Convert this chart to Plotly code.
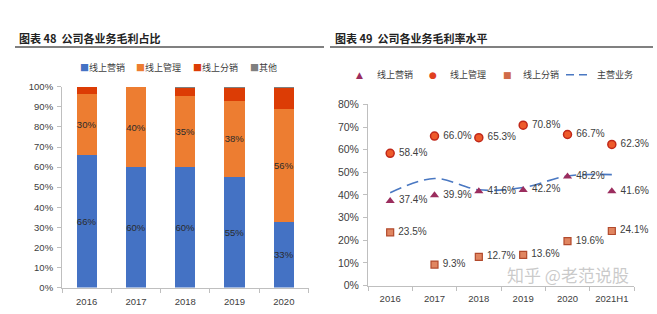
import plotly.graph_objects as go

# ---------- data ----------
years_left = ["2016", "2017", "2018", "2019", "2020"]
share_marketing = [66.0, 59.8, 60.2, 55.1, 32.6]
share_management = [30.3, 40.2, 35.0, 38.0, 56.2]
share_distribution = [3.7, 0.0, 4.5, 6.4, 10.9]
share_other = [0.0, 0.0, 0.3, 0.5, 0.3]

years_right = ["2016", "2017", "2018", "2019", "2020", "2021H1"]
margin_marketing = [37.4, 39.9, 41.6, 42.2, 48.2, 41.6]
margin_management = [58.4, 66.0, 65.3, 70.8, 66.7, 62.3]
margin_distribution = [23.5, 9.3, 12.7, 13.6, 19.6, 24.1]
margin_main = [41.0, 47.3, 42.3, 43.3, 48.4, 49.0]

left_ticks = list(range(0, 101, 10))
right_ticks = list(range(0, 81, 10))

W, H = 657, 314
def px(x):
    return x / W
def py(y):
    return 1 - y / H

ARIAL = "Arial, Liberation Sans, sans-serif"
CJK = "Noto Sans CJK SC"
AXC = "#bfbfbf"

fig = go.Figure()

# ---------- left: stacked bars ----------
bar_specs = [
    ("线上营销", share_marketing, "#4472C4", True),
    ("线上管理", share_management, "#ED7D31", True),
    ("线上分销", share_distribution, "#DC3C05", False),
    ("其他", share_other, "#7F7F7F", False),
]
for name, vals, col, lab in bar_specs:
    fig.add_trace(go.Bar(
        x=years_left, y=vals, name=name, marker=dict(color=col, line=dict(width=0)),
        width=0.41, xaxis="x", yaxis="y", showlegend=False,
        texttemplate="%{y:.0f}%" if lab else None,
        textposition="inside" if lab else "none",
        insidetextanchor="middle", constraintext="none", textangle=0,
        cliponaxis=False,
        textfont=dict(family=ARIAL, size=9.5, color="#2b2b2b"),
    ))

# ---------- right: scatter ----------
fig.add_trace(go.Scatter(
    x=years_right, y=margin_main, mode="lines", xaxis="x2", yaxis="y2",
    line=dict(color="#4A78C2", width=1.6, dash="12px,6px", shape="spline", smoothing=1.0),
    showlegend=False, hoverinfo="skip"))

def lbl(vals):
    return [f" {v:.1f}%" for v in vals]

LBLFONT = dict(family=ARIAL, size=10, color="#404040")
fig.add_trace(go.Scatter(
    x=years_right, y=margin_marketing, mode="markers+text", xaxis="x2", yaxis="y2",
    marker=dict(symbol="triangle-up", size=8, color="#9B2D5E"),
    text=lbl(margin_marketing), textposition="middle right", textfont=LBLFONT,
    cliponaxis=False, showlegend=False))
fig.add_trace(go.Scatter(
    x=years_right, y=margin_management, mode="markers+text", xaxis="x2", yaxis="y2",
    marker=dict(symbol="circle", size=8, color="#EE5A2A", line=dict(color="#C0281A", width=1.5)),
    text=lbl(margin_management), textposition="middle right", textfont=LBLFONT,
    cliponaxis=False, showlegend=False))
fig.add_trace(go.Scatter(
    x=years_right, y=margin_distribution, mode="markers+text", xaxis="x2", yaxis="y2",
    marker=dict(symbol="square", size=7, color="#E08560", line=dict(color="#B24A2C", width=1.2)),
    text=lbl(margin_distribution), textposition="middle right", textfont=LBLFONT,
    cliponaxis=False, showlegend=False))

# ---------- layout ----------
axis_common = dict(showline=True, linecolor=AXC, linewidth=1, ticks="outside",
                   tickcolor=AXC, ticklen=4, showgrid=False, zeroline=False,
                   fixedrange=True)

fig.update_layout(
    width=W, height=H, autosize=False,
    margin=dict(l=0, r=0, t=0, b=0),
    paper_bgcolor="white", plot_bgcolor="white",
    barmode="stack", bargap=0.59,
    xaxis=dict(domain=[px(62), px(308.5)], anchor="y", type="category",
               tickson="boundaries", ticklabelstandoff=5, tickangle=0,
               tickfont=dict(family=ARIAL, size=9.5, color="#404040"), **axis_common),
    yaxis=dict(domain=[py(292.7), py(84)], anchor="x", range=[0, 100],
               tickvals=left_ticks, ticktext=[f"{v}%" for v in left_ticks],
               ticklabelstandoff=2,
               tickfont=dict(family=ARIAL, size=9.5, color="#404040"), **axis_common),
    xaxis2=dict(domain=[px(368), px(634)], anchor="y2", type="category",
                range=[-0.5, 5.5], tickson="boundaries", ticklabelstandoff=4, tickangle=0,
                tickfont=dict(family=ARIAL, size=9.5, color="#404040"), **axis_common),
    yaxis2=dict(domain=[py(290.7), py(102.3)], anchor="x2", range=[0, 80],
                tickvals=right_ticks, ticktext=[f"{v}%" for v in right_ticks],
                ticklabelstandoff=2,
                tickfont=dict(family=ARIAL, size=10.5, color="#404040"), **axis_common),
)

ann = []
shapes = []
# titles
ann.append(dict(x=px(17), y=py(33), xref="paper", yref="paper", xanchor="left", yanchor="middle",
                text="<b>图表 48  公司各业务毛利占比</b>", showarrow=False,
                font=dict(family=CJK, size=11, color="#222222")))
ann.append(dict(x=px(333), y=py(33), xref="paper", yref="paper", xanchor="left", yanchor="middle",
                text="<b>图表 49  公司各业务毛利率水平</b>", showarrow=False,
                font=dict(family=CJK, size=11, color="#222222")))
shapes.append(dict(type="line", xref="paper", yref="paper", x0=px(15), x1=px(324),
                   y0=py(42.5), y1=py(42.5), line=dict(color="#808080", width=2)))
shapes.append(dict(type="line", xref="paper", yref="paper", x0=px(330), x1=px(653),
                   y0=py(42.5), y1=py(42.5), line=dict(color="#808080", width=2)))

# left legend
for xs, name, col in [(78, "线上营销", "#4472C4"), (134, "线上管理", "#ED7D31"),
                      (191, "线上分销", "#DC3C05"), (248, "其他", "#7F7F7F")]:
    ann.append(dict(x=px(xs), y=py(63.5), xref="paper", yref="paper", xanchor="left", yanchor="middle",
                    text=f"<span style='color:{col}'>■</span>{name}", showarrow=False,
                    font=dict(family=CJK, size=9, color="#404040")))

# right legend
for xs, sym, col, xt, name in [(359, "▲", "#9B2D5E", 375, "线上营销"),
                               (433, "●", "#E0401F", 448, "线上管理"),
                               (507, "■", "#D06A48", 521, "线上分销")]:
    ann.append(dict(x=px(xs), y=py(71.5), xref="paper", yref="paper", xanchor="center", yanchor="middle",
                    text=sym, showarrow=False, font=dict(family="DejaVu Sans", size=9, color=col)))
    ann.append(dict(x=px(xt), y=py(71.5), xref="paper", yref="paper", xanchor="left", yanchor="middle",
                    text=name, showarrow=False, font=dict(family=CJK, size=9, color="#404040")))
shapes.append(dict(type="line", xref="paper", yref="paper", x0=px(566), x1=px(592),
                   y0=py(71.5), y1=py(71.5), line=dict(color="#4A78C2", width=1.6, dash="8px,5px")))
ann.append(dict(x=px(595), y=py(71.5), xref="paper", yref="paper", xanchor="left", yanchor="middle",
                text="主营业务", showarrow=False, font=dict(family=CJK, size=9, color="#404040")))

# watermark
ann.append(dict(x=px(568), y=py(279), xref="paper", yref="paper", xanchor="center", yanchor="middle",
                text="知乎 @老范说股", showarrow=False,
                font=dict(family=CJK, size=17, color="rgba(185,185,185,0.75)")))

fig.update_layout(annotations=ann, shapes=shapes)

fig.write_html("out.html")
